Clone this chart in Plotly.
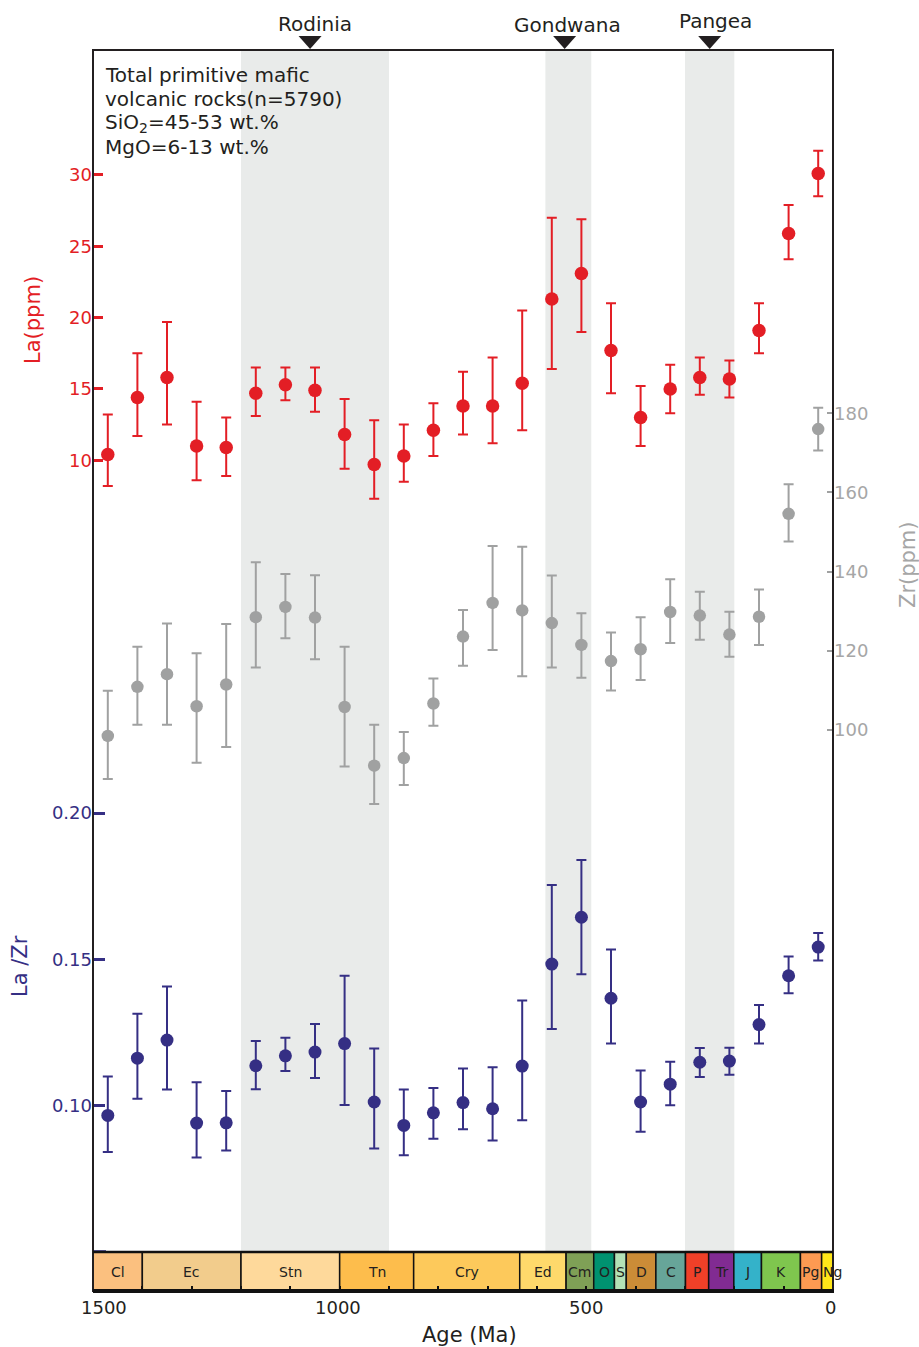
import plotly.graph_objects as go

W, H = 919, 1347


def px(x):
    return x / W


def py(y):
    return 1 - y / H


FONT = "DejaVu Sans"
TXT = "#231F20"
RED = "#E31E25"
GRAY = "#A0A1A1"
GRAY_TXT = "#A6A6A6"
NAVY = "#352F84"
BAND = "#E9EBEA"

# ---------------- data ----------------
ages = [1470, 1410, 1350, 1290, 1230, 1170, 1110, 1050, 990, 930, 870, 810, 750,
        690, 630, 570, 510, 450, 390, 330, 270, 210, 150, 90, 30]

la_mean = [10.4, 14.4, 15.8, 11.0, 10.9, 14.7, 15.3, 14.9, 11.8, 9.7, 10.3, 12.1, 13.8,
           13.8, 15.4, 21.3, 23.1, 17.7, 13.0, 15.0, 15.8, 15.7, 19.1, 25.9, 30.1]
la_upper = [13.2, 17.5, 19.7, 14.1, 13.0, 16.5, 16.5, 16.5, 14.3, 12.8, 12.5, 14.0, 16.2,
            17.2, 20.5, 27.0, 26.9, 21.0, 15.2, 16.7, 17.2, 17.0, 21.0, 27.9, 31.7]
la_lower = [8.2, 11.7, 12.5, 8.6, 8.9, 13.1, 14.2, 13.4, 9.4, 7.3, 8.5, 10.3, 11.8,
            11.2, 12.1, 16.4, 19.0, 14.7, 11.0, 13.3, 14.6, 14.4, 17.5, 24.1, 28.5]

zr_mean = [98.5, 110.9, 114.1, 106.0, 111.5, 128.5, 131.1, 128.4, 105.8, 91.0, 92.9, 106.7, 123.6,
           132.1, 130.2, 127.0, 121.5, 117.4, 120.4, 129.8, 128.9, 124.1, 128.6, 154.6, 176.0]
zr_upper = [109.9, 121.0, 126.9, 119.4, 126.8, 142.4, 139.4, 139.1, 121.0, 101.3, 99.5, 113.0, 130.3,
            146.5, 146.3, 139.0, 129.5, 124.6, 128.5, 138.1, 134.9, 129.9, 135.5, 162.1, 181.4]
zr_lower = [87.6, 101.3, 101.3, 91.7, 95.7, 115.8, 123.2, 117.9, 90.8, 81.3, 86.1, 101.1, 116.2,
            120.2, 113.6, 115.8, 113.2, 110.0, 112.6, 122.0, 122.8, 118.5, 121.5, 147.6, 170.6]

ratio_mean = [0.0966, 0.1162, 0.1224, 0.0940, 0.0941, 0.1136, 0.1170, 0.1183, 0.1212, 0.1012,
              0.0932, 0.0975, 0.1010, 0.0989, 0.1135, 0.1484, 0.1644, 0.1367, 0.1012, 0.1073,
              0.1148, 0.1152, 0.1277, 0.1444, 0.1542]
ratio_upper = [0.1099, 0.1314, 0.1407, 0.1080, 0.1050, 0.1221, 0.1232, 0.1279, 0.1444, 0.1195,
               0.1055, 0.1060, 0.1127, 0.1131, 0.1359, 0.1754, 0.1840, 0.1534, 0.1120, 0.1150,
               0.1197, 0.1198, 0.1344, 0.1510, 0.1590]
ratio_lower = [0.0841, 0.1023, 0.1055, 0.0822, 0.0846, 0.1056, 0.1118, 0.1094, 0.1002, 0.0853,
               0.0830, 0.0886, 0.0919, 0.0880, 0.0950, 0.1262, 0.1449, 0.1212, 0.0910, 0.1001,
               0.1098, 0.1105, 0.1212, 0.1384, 0.1496]

period_names = ["Cl", "Ec", "Stn", "Tn", "Cry", "Ed", "Cm", "O", "S", "D", "C", "P", "Tr", "J",
                "K", "Pg", "Ng"]
period_start = [1500, 1400, 1200, 1000, 850, 635, 541, 485, 443, 419, 359, 299, 252, 201, 145, 66, 23]
period_end = [1400, 1200, 1000, 850, 635, 541, 485, 443, 419, 359, 299, 252, 201, 145, 66, 23, 0]
period_colors = ["#FBC07F", "#F2CC8C", "#FED99B", "#FDBD4C", "#FDC95B", "#FED96B", "#7FA056",
                 "#009270", "#B3E2B6", "#CB8C37", "#67A599", "#F04028", "#812B92", "#34B2C9",
                 "#7FC64E", "#FD9A52", "#FFE619"]

sc_names = ["Rodinia", "Gondwana", "Pangea"]
sc_start = [1200, 583, 300]
sc_end = [900, 490, 200]
sc_peak = [1060, 544, 250]

la_ticks = [10, 15, 20, 25, 30]
ratio_ticks = [0.10, 0.15, 0.20]
ratio_base_tick = 0.05
zr_ticks = [100, 120, 140, 160, 180]
age_labels = [1500, 1000, 500, 0]


def errs(mean, up, lo):
    return ([u - m for u, m in zip(up, mean)], [m - l for m, l in zip(mean, lo)])


fig = go.Figure()

for mean, up, lo, color, yax, size in [
    (zr_mean, zr_upper, zr_lower, GRAY, "y3", 12.5),
    (la_mean, la_upper, la_lower, RED, "y", 13.5),
    (ratio_mean, ratio_upper, ratio_lower, NAVY, "y2", 13),
]:
    e_up, e_lo = errs(mean, up, lo)
    fig.add_trace(go.Scatter(
        x=ages, y=mean, mode="markers", xaxis="x", yaxis=yax,
        marker=dict(size=size, color=color, line=dict(width=0)),
        error_y=dict(type="data", symmetric=False, array=e_up, arrayminus=e_lo,
                     color=color, thickness=2, width=5),
        showlegend=False, cliponaxis=False,
    ))

shapes = []
# supercontinent bands
for s, e in zip(sc_start, sc_end):
    shapes.append(dict(type="rect", xref="x", yref="paper", x0=s, x1=e,
                       y0=py(1252), y1=py(50), fillcolor=BAND, line=dict(width=0),
                       layer="below"))
# timescale boxes
for s, e, c in zip(period_start, period_end, period_colors):
    shapes.append(dict(type="rect", xref="x", yref="y4", x0=s, x1=e, y0=0, y1=1,
                       fillcolor=c, line=dict(width=1.5, color="#111111"), layer="below"))
# unlabeled base tick of La/Zr axis
shapes.append(dict(type="line", xref="paper", yref="y2", x0=px(93), x1=px(106),
                   y0=ratio_base_tick, y1=ratio_base_tick,
                   line=dict(color=NAVY, width=3), layer="above"))
# frame
shapes.append(dict(type="rect", xref="paper", yref="paper", x0=px(93), x1=px(833),
                   y0=py(1291), y1=py(50), line=dict(color=TXT, width=2), layer="above"))
shapes.append(dict(type="line", xref="paper", yref="paper", x0=px(93), x1=px(833),
                   y0=py(1252), y1=py(1252), line=dict(color="#111111", width=2.5), layer="above"))
shapes.append(dict(type="line", xref="paper", yref="paper", x0=px(93), x1=px(834),
                   y0=py(1291), y1=py(1291), line=dict(color="#111111", width=4), layer="above"))
# triangles
half = 11.5 / 0.4933
for pk in sc_peak:
    shapes.append(dict(type="path", xref="x", yref="paper",
                       path=f"M {pk - half},{py(36)} L {pk + half},{py(36)} L {pk},{py(49)} Z",
                       fillcolor=TXT, line=dict(width=0), layer="above"))

annotations = []
# supercontinent names
for name, pk, dx, yy in zip(sc_names, sc_peak, [5, 3, 6], [24, 25, 21]):
    annotations.append(dict(text=name, x=pk, xref="x", y=py(yy), yref="paper",
                            xshift=dx, showarrow=False, xanchor="center", yanchor="middle",
                            font=dict(family=FONT, size=20, color=TXT)))
# info text
info_lines = ["Total primitive mafic", "volcanic rocks(n=5790)",
              "SiO<sub>2</sub>=45-53 wt.%", "MgO=6-13 wt.%"]
for i, line in enumerate(info_lines):
    annotations.append(dict(text=line, x=px(103), xref="paper", y=py(75 + 24 * i),
                            yref="paper", showarrow=False, xanchor="left", yanchor="middle",
                            font=dict(family=FONT, size=20, color=TXT)))
# period labels
for name, s, e in zip(period_names, period_start, period_end):
    dx = 5 if name == "Ng" else (-1 if name == "Pg" else 0)
    annotations.append(dict(text=name, x=(s + e) / 2, xref="x", y=0.5, yref="y4",
                            xshift=dx, showarrow=False, xanchor="center", yanchor="middle",
                            font=dict(family=FONT, size=14, color=TXT)))
# age tick labels
for a, dx in zip(age_labels, [11, -2, 0, -3]):
    annotations.append(dict(text=str(a), x=a, xref="x", y=py(1307), yref="paper",
                            xshift=dx, showarrow=False, xanchor="center", yanchor="middle",
                            font=dict(family=FONT, size=18, color=TXT)))
annotations.append(dict(text="Age (Ma)", x=px(470), xref="paper", y=py(1335), yref="paper",
                        showarrow=False, xanchor="center", yanchor="middle",
                        font=dict(family=FONT, size=21, color=TXT)))
# axis titles
annotations.append(dict(text="La(ppm)", x=px(33), y=py(320), xref="paper", yref="paper",
                        textangle=-90, showarrow=False, xanchor="center", yanchor="middle",
                        font=dict(family=FONT, size=21, color=RED)))
annotations.append(dict(text="La /Zr", x=px(20), y=py(966), xref="paper", yref="paper",
                        textangle=-90, showarrow=False, xanchor="center", yanchor="middle",
                        font=dict(family=FONT, size=21, color=NAVY)))
annotations.append(dict(text="Zr(ppm)", x=px(908), y=py(565), xref="paper", yref="paper",
                        textangle=-90, showarrow=False, xanchor="center", yanchor="middle",
                        font=dict(family=FONT, size=21, color=GRAY_TXT)))

main_dom = [py(1252), py(50)]

fig.update_layout(
    width=W, height=H, autosize=False,
    margin=dict(l=0, r=0, t=0, b=0, pad=0),
    paper_bgcolor="white", plot_bgcolor="rgba(0,0,0,0)",
    showlegend=False,
    shapes=shapes, annotations=annotations,
    xaxis=dict(domain=[px(93), px(833)], range=[1500, 0], anchor="y4",
               ticks="inside", ticklen=5, tickwidth=2, tickcolor="#111111",
               tick0=0, dtick=100, showticklabels=False, showgrid=False,
               zeroline=False, showline=False),
    yaxis=dict(domain=main_dom, range=[-45.5, 38.76], anchor="x", side="left",
               tickmode="array", tickvals=la_ticks, ticks="inside", ticklen=10,
               tickwidth=2.5, tickcolor=RED,
               tickfont=dict(family=FONT, size=18, color=RED),
               showgrid=False, zeroline=False, showline=False),
    yaxis2=dict(overlaying="y", range=[0.0499, 0.46105], anchor="x", side="left",
                tickmode="array", tickvals=ratio_ticks, tickformat=".2f",
                ticks="inside", ticklen=12, tickwidth=3, tickcolor=NAVY,
                tickfont=dict(family=FONT, size=18, color=NAVY),
                showgrid=False, zeroline=False, showline=False),
    yaxis3=dict(overlaying="y", range=[-31.85, 271.76], anchor="x", side="right",
                tickmode="array", tickvals=zr_ticks,
                ticks="inside", ticklen=6, tickwidth=2, tickcolor=GRAY,
                tickfont=dict(family=FONT, size=18, color=GRAY_TXT),
                showgrid=False, zeroline=False, showline=False),
    yaxis4=dict(domain=[py(1291), py(1252)], range=[0, 1], anchor="x",
                showticklabels=False, ticks="", showgrid=False, zeroline=False,
                showline=False, fixedrange=True),
)

fig.write_html("out.html")
